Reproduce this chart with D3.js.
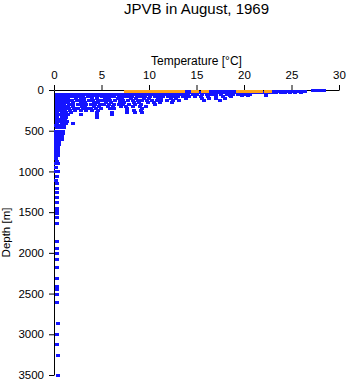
<!DOCTYPE html>
<html>
<head>
<meta charset="utf-8">
<script src="https://cdn.jsdelivr.net/npm/d3@7"></script>
<style>
body { margin: 0; background: #fff; }
svg { display: block; font-family: "Liberation Sans", Arial, sans-serif; }
</style>
</head>
<body>
<svg width="348" height="384"></svg>
<script>
// depth levels [m] of the casts, and the temperatures [°C] read at each level
var blueDepths = [0, 10, 20, 30, 50, 60, 75, 100, 125, 150, 175, 200, 225, 250, 270, 300, 330, 350, 380, 400,
  430, 460, 500, 530, 560, 600, 630, 660, 700, 730, 760, 800, 840, 870, 900, 950, 1000, 1050, 1100, 1140,
  1200, 1250, 1310, 1370, 1445, 1475, 1505, 1555, 1630, 1850, 1935, 2000, 2070, 2170, 2305, 2405, 2440,
  2500, 2600, 2860, 3000, 3120, 3255, 3500];

var blueTemps = [
  [27.3, 27.7, 28.1, 28.4],
  [13.9, 14.3, 16.3, 16.7, 17.1, 17.5, 17.9, 18.3, 18.7, 19.1, 23.2, 23.6, 24.0, 24.4, 24.8, 25.2, 25.6, 26.0, 26.4],
  [15.0, 15.4, 15.8, 16.2, 17.0, 17.4, 17.8, 18.3, 18.7, 19.5, 20.0, 20.4, 20.8, 21.3, 21.7, 22.5, 23.0, 23.4, 23.9, 24.3, 24.8, 25.4, 26.0],
  [7.6, 8.0, 8.4, 8.8, 9.6, 10.0, 10.4, 10.8, 11.2, 11.6, 12.0, 12.4, 13.2, 13.6, 14.0, 14.4, 14.8, 15.2, 15.6, 16.0, 16.4, 16.8, 17.2, 18.0, 18.4, 18.8, 19.2, 19.6, 20.0, 20.4, 20.8, 21.6, 22.0, 22.4, 22.9, 23.4],
  [0.3, 0.6, 0.9, 1.2, 1.5, 1.8, 2.1, 2.5, 2.9, 3.3, 3.7, 4.1, 4.5, 4.9, 5.3, 5.7, 6.1, 6.5, 6.9, 7.3, 7.7, 8.1, 8.5, 8.9, 9.3, 9.7, 10.1, 10.5, 10.9, 11.3, 11.7, 12.1, 12.5, 12.9, 13.3, 13.7, 14.1, 14.6, 15.1, 15.6, 16.1, 16.6, 17.1, 17.6, 18.2, 18.8, 19.4, 20.0, 20.6],
  [0.4, 0.8, 1.2, 2.0, 2.4, 3.0, 3.8, 4.4, 4.8, 5.8, 6.2, 7.2, 7.8, 8.8, 9.4, 10.6, 11.0, 12.2, 12.8, 14.0, 14.8, 16.2, 17.0, 18.5, 19.8, 20.4, 22.3],
  [0.3, 0.7, 1.1, 1.5, 1.9, 2.3, 2.7, 3.1, 3.6, 4.0, 4.5, 5.0, 5.4, 5.9, 6.3, 6.8, 7.3, 7.7, 8.2, 8.7, 9.1, 9.6, 10.1, 10.6, 11.1, 11.5, 12.0, 12.5, 13.0, 13.6, 14.2, 14.8, 15.5, 16.2, 17.0, 17.8, 18.6],
  [0.3, 0.7, 1.1, 1.5, 2.3, 2.8, 3.2, 4.0, 4.5, 5.4, 5.8, 6.7, 7.2, 8.1, 8.6, 9.5, 10.0, 10.9, 11.3, 12.3, 12.8, 13.9, 15.6, 16.3, 17.1, 18.0],
  [0.3, 0.7, 1.1, 1.5, 1.9, 2.4, 2.8, 3.2, 3.7, 4.1, 4.6, 5.0, 5.5, 5.9, 6.4, 6.9, 7.3, 7.8, 8.3, 8.8, 9.3, 9.8, 10.3, 10.8, 11.3, 11.9, 12.5, 13.2, 15.8, 17.5],
  [0.3, 0.7, 1.1, 1.5, 2.0, 2.8, 3.3, 4.2, 4.6, 5.5, 6.0, 6.9, 7.4, 8.4, 8.9, 9.9, 10.5, 11.2, 12.4],
  [0.3, 0.7, 1.1, 1.6, 2.0, 2.5, 2.9, 3.4, 3.9, 4.3, 4.8, 5.3, 5.8, 6.3, 6.8, 7.3, 7.9, 8.5, 9.2, 10.6],
  [0.3, 0.7, 1.1, 1.5, 2.0, 2.9, 3.3, 4.2, 4.7, 5.7, 6.2, 7.0, 7.6, 8.3, 9.0, 9.7],
  [0.3, 0.7, 1.2, 1.6, 2.1, 2.5, 3.0, 3.5, 3.9, 4.4, 4.9, 5.9, 6.3, 7.7, 9.3],
  [0.3, 0.7, 1.2, 1.7, 2.2, 2.8, 3.4, 4.0, 4.6, 7.7, 8.4, 9.2],
  [0.3, 0.8, 1.3, 1.8, 4.5, 6.1, 7.7, 8.5, 9.3],
  [0.3, 0.7, 1.1, 1.5, 2.8, 4.5, 6.1],
  [0.3, 0.8, 1.3, 4.5],
  [0.3, 0.7, 1.2],
  [0.3, 0.7, 1.1, 1.4],
  [0.3, 0.8, 1.3, 2.0],
  [0.2, 0.6, 1.0],
  [0.3, 0.7, 1.1],
  [0.2, 0.6, 0.9],
  [0.2, 0.5, 0.9],
  [0.2, 0.5, 0.8],
  [0.2, 0.5, 0.8],
  [0.2, 0.5],
  [0.2, 0.5],
  [0.2, 0.4],
  [0.2, 0.4],
  [0.2, 0.4],
  [0.2, 0.4],
  [0.2], [0.3], [0.2, 0.4], [0.2], [0.2, 0.4], [0.3], [0.2], [0.3],
  [0.3], [0.3], [0.3], [0.3], [0.3], [0.3], [0.3], [0.3], [0.3],
  [0.3], [0.3], [0.3], [0.3], [0.3], [0.3], [0.3], [0.3],
  [0.3], [0.3], [0.4], [0.3], [0.3], [0.4], [0.4]
];

// the highlighted (orange) surface readings
var orangeDepths = [10];
var orangeTemps = [
  [7.6, 8.0, 8.4, 8.8, 9.2, 9.6, 10.0, 10.4, 10.8, 11.2, 11.6, 12.0, 12.4, 12.8, 13.2, 13.6, 14.6, 15.0, 15.7, 16.1,
   19.4, 19.8, 20.2, 20.6, 21.0, 21.4, 21.8, 22.3, 22.7]
];

var tempTicks = [0, 5, 10, 15, 20, 25, 30];
var depthTicks = [0, 500, 1000, 1500, 2000, 2500, 3000, 3500];

var svg = d3.select("svg"),
  width = +svg.attr("width"),
  height = +svg.attr("height");

var x = d3.scaleLinear().domain([0, 30]).range([54, 339]);
var y = d3.scaleLinear().domain([0, 3500]).range([90, 375]);

function toPoints(depths, temps) {
  var pts = [];
  depths.forEach(function(d, i) {
    temps[i].forEach(function(t) { pts.push({t: t, d: d}); });
  });
  return pts;
}

// title
svg.append("text")
  .attr("x", 196.5).attr("y", 14)
  .attr("text-anchor", "middle")
  .style("font-size", "15px")
  .text("JPVB in August, 1969");

// axes
var xAxis = svg.append("g")
  .attr("transform", "translate(0,90)")
  .call(d3.axisTop(x).tickValues(tempTicks).tickSize(5).tickSizeOuter(0).tickPadding(6));

var yAxis = svg.append("g")
  .attr("transform", "translate(54,0)")
  .call(d3.axisLeft(y).tickValues(depthTicks).tickFormat(d3.format("d"))
    .tickSize(5).tickSizeOuter(0).tickPadding(5));

svg.selectAll(".tick text")
  .style("font-family", "'Liberation Sans', Arial, sans-serif")
  .style("font-size", "11.5px")
  .attr("fill", "#000");
svg.selectAll(".domain, .tick line").attr("stroke", "#000");

svg.append("text")
  .attr("x", 196.5).attr("y", 64.5)
  .attr("text-anchor", "middle")
  .style("font-size", "12px")
  .text("Temperature [°C]");

svg.append("text")
  .attr("transform", "translate(10,232.5) rotate(-90)")
  .attr("text-anchor", "middle")
  .style("font-size", "11.5px")
  .text("Depth [m]");

// markers, drawn over the axis lines like the original
function drawMarkers(pts, color) {
  svg.append("g")
    .selectAll("rect")
    .data(pts)
    .enter().append("rect")
    .attr("x", function(p) { return Math.round(x(p.t)) - 2; })
    .attr("y", function(p) { return Math.round(y(p.d)) - 1; })
    .attr("width", 4)
    .attr("height", 3)
    .attr("fill", color);
}

drawMarkers(toPoints(blueDepths, blueTemps), "#1414ff");
drawMarkers(toPoints(orangeDepths, orangeTemps), "#ffa31a");
</script>
</body>
</html>
